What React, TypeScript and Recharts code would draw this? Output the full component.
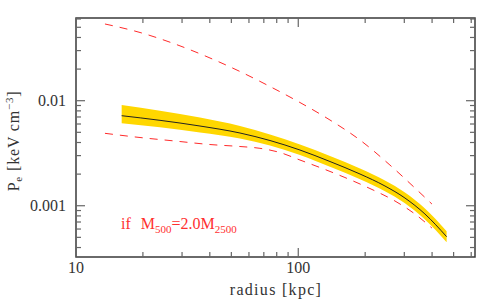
import React from 'react';
import { ComposedChart, Line, Area, XAxis, YAxis, ReferenceLine, ReferenceArea } from 'recharts';

// ---- data (radius in kpc, pressure in keV cm^-3) ----
const medianR = [16.05, 23.87, 36.13, 54.67, 74.6, 101.8, 138.9, 189.6, 245.5, 302, 371.5, 465.1];
const medianP = [0.0072, 0.006506, 0.005741, 0.004925, 0.004178, 0.003392, 0.002636, 0.002004, 0.001541, 0.001184, 0.000834, 0.000507];
const bandLo = [0.00609, 0.005582, 0.004977, 0.004364, 0.003743, 0.003039, 0.002346, 0.001784, 0.001371, 0.001054, 0.000739, 0.000449];
const bandHi = [0.0091, 0.008015, 0.006918, 0.005743, 0.004767, 0.003826, 0.002973, 0.00226, 0.001738, 0.001336, 0.000941, 0.000572];

const upperR = [13.5, 19.41, 27.88, 40.07, 54.67, 74.6, 101.8, 138.9, 189.6, 258.5, 334.9, 399.4];
const upperP = [0.05376, 0.04462, 0.03467, 0.02551, 0.01897, 0.01365, 0.00961, 0.00655, 0.00422, 0.00244, 0.001475, 0.001038];

const lowerR = [13.5, 19.41, 27.88, 40.07, 54.67, 67.24, 82.74, 101.8, 125.2, 162.2, 210.2, 272.3, 334.9, 399.4];
const lowerP = [0.004891, 0.004462, 0.004132, 0.003827, 0.003663, 0.003521, 0.003211, 0.002724, 0.002311, 0.001856, 0.001458, 0.001109, 0.000834, 0.000613];

const xTicks = [10, 20, 30, 40, 50, 60, 70, 80, 90, 100, 200, 300, 400, 500, 600];
const xLabeled = [10, 100];
const yTicks = [0.0004, 0.0005, 0.0006, 0.0007, 0.0008, 0.0009, 0.001, 0.002, 0.003, 0.004, 0.005, 0.006, 0.007, 0.008, 0.009, 0.01, 0.02, 0.03, 0.04, 0.05, 0.06];
const yLabeled = [0.001, 0.01];

const xDomain = [10, 624];
const yDomain = [0.000325, 0.0613];

const medianData = medianR.map((r, i) => ({ r, p: medianP[i], band: [bandLo[i], bandHi[i]] }));
const upperData = upperR.map((r, i) => ({ r, p: upperP[i] }));
const lowerData = lowerR.map((r, i) => ({ r, p: lowerP[i] }));

// plot box geometry (pixels) used to express tick-mark lengths as log factors
const PLOT_W = 491 - 16 - 76;
const PLOT_H = 302 - 18 - 45;
const X_DEC = PLOT_W / Math.log10(xDomain[1] / xDomain[0]);
const Y_DEC = PLOT_H / Math.log10(yDomain[1] / yDomain[0]);
const MAJ = 9;
const MIN = 5;
const fx = (px: number) => Math.pow(10, px / X_DEC);
const fy = (px: number) => Math.pow(10, px / Y_DEC);

const FONT = "'Liberation Serif', 'Times New Roman', serif";
const TXT = '#333';
const TICK = '#666';
const txtStyle = { fontFamily: FONT };

const BottomLabel = (props: any) => {
  const { x, y, payload } = props;
  if (!xLabeled.includes(payload.value)) return <g />;
  return (
    <text x={x} y={y + 16} textAnchor="middle" style={txtStyle} fontSize={16} fill={TXT}>
      {payload.value}
    </text>
  );
};

const LeftLabel = (props: any) => {
  const { x, y, payload } = props;
  if (!yLabeled.includes(payload.value)) return <g />;
  return (
    <text x={x - 10} y={y + 5.5} textAnchor="end" style={txtStyle} fontSize={16} fill={TXT}>
      {String(payload.value)}
    </text>
  );
};

export default function App() {
  const tickMarks: any[] = [];
  xTicks.forEach((v) => {
    const k = fy(xLabeled.includes(v) ? MAJ : MIN);
    tickMarks.push(
      <ReferenceLine key={`xb${v}`} xAxisId="b" yAxisId="l" ifOverflow="visible" stroke={TICK} strokeWidth={1.2}
        segment={[{ x: v, y: yDomain[0] }, { x: v, y: yDomain[0] * k }]} />,
      <ReferenceLine key={`xt${v}`} xAxisId="b" yAxisId="l" ifOverflow="visible" stroke={TICK} strokeWidth={1.2}
        segment={[{ x: v, y: yDomain[1] }, { x: v, y: yDomain[1] / k }]} />
    );
  });
  yTicks.forEach((v) => {
    const k = fx(yLabeled.includes(v) ? MAJ : MIN);
    tickMarks.push(
      <ReferenceLine key={`yl${v}`} xAxisId="b" yAxisId="l" ifOverflow="visible" stroke={TICK} strokeWidth={1.2}
        segment={[{ x: xDomain[0], y: v }, { x: xDomain[0] * k, y: v }]} />,
      <ReferenceLine key={`yr${v}`} xAxisId="b" yAxisId="l" ifOverflow="visible" stroke={TICK} strokeWidth={1.2}
        segment={[{ x: xDomain[1], y: v }, { x: xDomain[1] / k, y: v }]} />
    );
  });

  return (
    <div style={{ position: 'absolute', left: 0, top: 0, width: 491, height: 302, background: '#fff' }}>
      <ComposedChart width={491} height={302} margin={{ top: 18, right: 16, bottom: 0, left: 0 }}>
        <XAxis
          xAxisId="b"
          dataKey="r"
          type="number"
          scale="log"
          domain={xDomain}
          allowDataOverflow
          ticks={xTicks}
          interval={0}
          orientation="bottom"
          height={45}
          tickSize={0}
          tickMargin={0}
          tickLine={false}
          axisLine={false}
          tick={BottomLabel}
        />
        <YAxis
          yAxisId="l"
          type="number"
          scale="log"
          domain={yDomain}
          allowDataOverflow
          ticks={yTicks}
          interval={0}
          orientation="left"
          width={76}
          tickSize={0}
          tickMargin={0}
          tickLine={false}
          axisLine={false}
          tick={LeftLabel}
        />
        <Area xAxisId="b" yAxisId="l" data={medianData} dataKey="band" type="monotone" fill="#ffd700" fillOpacity={1} stroke="none" isAnimationActive={false} />
        <Line xAxisId="b" yAxisId="l" data={upperData} dataKey="p" type="monotone" stroke="#ff2a2a" strokeWidth={1} strokeDasharray="8 7" dot={false} isAnimationActive={false} />
        <Line xAxisId="b" yAxisId="l" data={lowerData} dataKey="p" type="monotone" stroke="#ff2a2a" strokeWidth={1} strokeDasharray="8 7" dot={false} isAnimationActive={false} />
        <Line xAxisId="b" yAxisId="l" data={medianData} dataKey="p" type="monotone" stroke="#222" strokeWidth={1} dot={false} isAnimationActive={false} />
        {tickMarks}
        <ReferenceArea
          xAxisId="b"
          yAxisId="l"
          x1={xDomain[0]}
          x2={xDomain[1]}
          y1={yDomain[0]}
          y2={yDomain[1]}
          ifOverflow="visible"
          fill="none"
          fillOpacity={0}
          stroke="#3a3a3a"
          strokeWidth={1.5}
        />

        <text x={276} y={295} textAnchor="middle" style={txtStyle} fontSize={16} fill={TXT} letterSpacing={1.3}>
          radius [kpc]
        </text>
        <text transform="rotate(-90)" x={-141} y={19} textAnchor="middle" style={txtStyle} fontSize={16} fill={TXT} letterSpacing={0.8}>
          P<tspan fontSize={11} dy={3}>e</tspan>
          <tspan dy={-3} dx={5}>[keV cm</tspan>
          <tspan fontSize={11} dy={-6}>−3</tspan>
          <tspan dy={6}>]</tspan>
        </text>
        <text x={121} y={229} style={txtStyle} fontSize={16} fill="#ff3030">
          if<tspan dx={10}>M</tspan>
          <tspan fontSize={11} dy={4}>500</tspan>
          <tspan dy={-4}>=2.0M</tspan>
          <tspan fontSize={11} dy={4}>2500</tspan>
        </text>
      </ComposedChart>
    </div>
  );
}
